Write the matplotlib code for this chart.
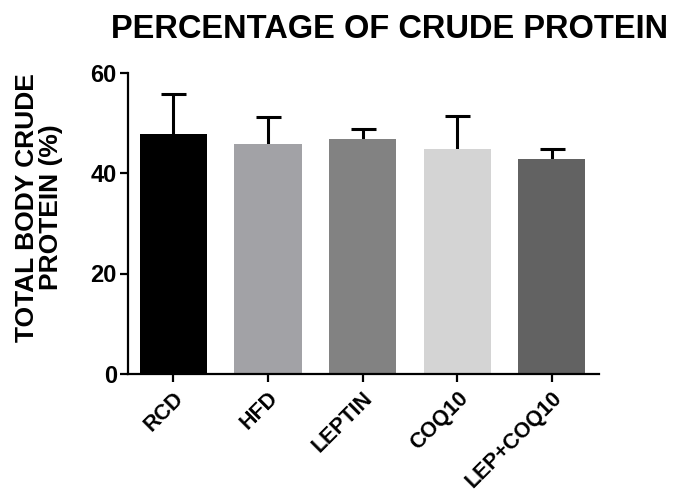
import numpy as np
import matplotlib.pyplot as plt

plt.rcParams['font.family'] = ['Liberation Sans', 'DejaVu Sans']
plt.rcParams['font.weight'] = 'bold'

# group names, means and error (SD)
groups = ['RCD', 'HFD', 'LEPTIN', 'COQ10', 'LEP+COQ10']
means = [47.8, 45.8, 46.8, 44.8, 42.8]
errors = [8.0, 5.4, 2.0, 6.6, 1.9]
colors = ['#000000', '#a2a2a6', '#828282', '#d4d4d4', '#626262']

fig = plt.figure(figsize=(6.77, 5), dpi=100)
ax = fig.add_axes([0.189, 0.252, 0.696, 0.603])

x = np.arange(len(groups))
# error bars go behind the bars so only the upper half shows
ax.errorbar(x, means, yerr=errors, fmt='none', ecolor='black',
            elinewidth=2.2, capsize=9, capthick=2.2, zorder=1)
ax.bar(x, means, width=0.71, color=colors, zorder=2)

ax.set_ylim(0, 60)
ax.set_xlim(-0.48, 4.5)
ax.set_yticks([0, 20, 40, 60])
ax.set_xticks(x)
ax.set_xticklabels(groups, rotation=45, ha='right', rotation_mode='anchor',
                   fontsize=15.5)

for s in ['top', 'right']:
    ax.spines[s].set_visible(False)
for s in ['left', 'bottom']:
    ax.spines[s].set_linewidth(1.6)
ax.tick_params(width=1.6, length=6)
ax.tick_params(axis='x', pad=4)
ax.tick_params(axis='y', pad=2, labelsize=17)

ax.set_ylabel('TOTAL BODY CRUDE\nPROTEIN (%)', fontsize=19, fontweight='bold',
              linespacing=1.0)
ax.yaxis.set_label_coords(-0.138, 0.553)
fig.text(0.575, 0.94, 'PERCENTAGE OF CRUDE PROTEIN', ha='center', va='center',
         fontsize=23.5, fontweight='bold')

fig.savefig('out.png', dpi=100)
